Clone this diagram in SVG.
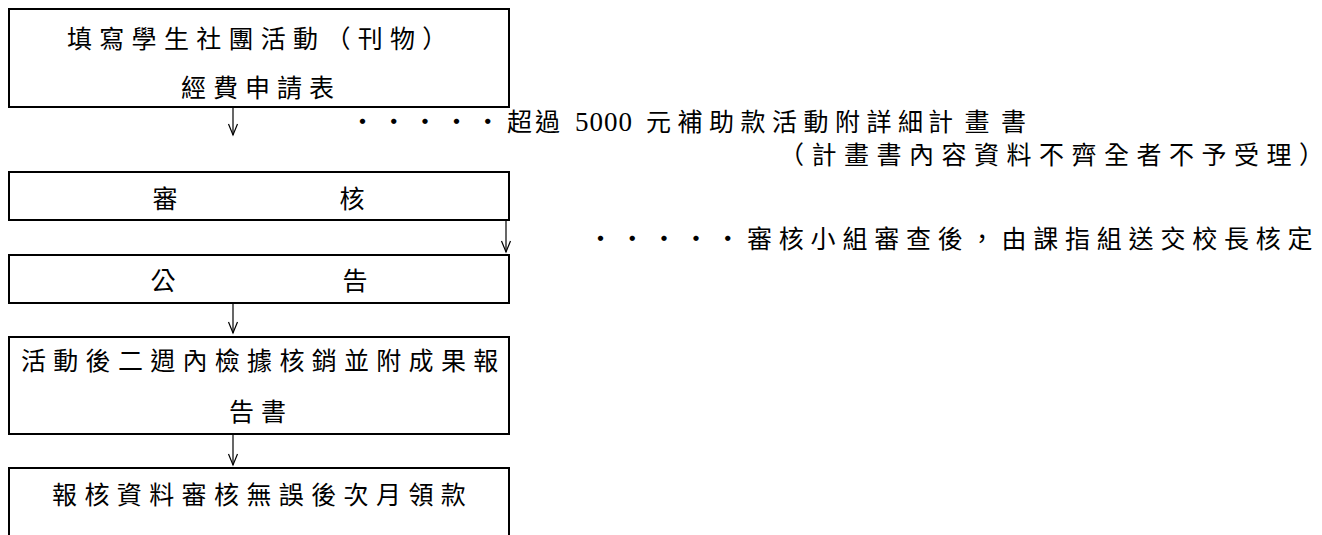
<svg xmlns="http://www.w3.org/2000/svg" width="1322" height="535" viewBox="0 0 1322 535">
<style>
.box{fill:none;stroke:#000;stroke-width:2}
.t{font-family:"Noto Sans CJK TC","Noto Sans CJK SC",sans-serif;font-size:25px;fill:#000;letter-spacing:7px}
.s{letter-spacing:0}
.r{font-family:"Noto Sans CJK TC","Noto Sans CJK SC",sans-serif;font-size:25px;fill:#000}
.num{font-family:"Liberation Serif",serif;font-size:27px;letter-spacing:1px}
.c{fill:none;stroke:#000;stroke-width:1.2}
</style>
<defs>
<marker id="ah" viewBox="-13 -6 15 12" refX="0" refY="0" markerWidth="15" markerHeight="12" markerUnits="userSpaceOnUse" orient="auto">
<path d="M-11,-4.5 L0,0 L-11,4.5" fill="none" stroke="#000" stroke-width="1.2"/>
</marker>
</defs>
<g id="node1">
<rect class="box" x="9" y="9" width="500" height="98"/>
<text class="t" x="67" y="47.5" style="letter-spacing:7.3px">填寫學生社團活動（刊物）</text>
<text class="t" x="181" y="97">經費申請表</text>
</g>
<g id="node2">
<rect class="box" x="9" y="172" width="500" height="48"/>
<text class="t s" x="165" y="208" text-anchor="middle">審</text>
<text class="t s" x="352" y="208" text-anchor="middle">核</text>
</g>
<g id="node3">
<rect class="box" x="9" y="255" width="500" height="48"/>
<text class="t s" x="163" y="290" text-anchor="middle">公</text>
<text class="t s" x="355" y="290" text-anchor="middle">告</text>
</g>
<g id="node4">
<rect class="box" x="9" y="337" width="500" height="97"/>
<text class="t" x="21" y="370" style="letter-spacing:7.3px">活動後二週內檢據核銷並附成果報</text>
<text class="t" x="229" y="421">告書</text>
</g>
<g id="node5">
<rect class="box" x="9" y="468" width="500" height="100"/>
<text class="t" x="52" y="504" style="letter-spacing:7.4px">報核資料審核無誤後次月領款</text>
</g>
<g id="notes">
<text class="r" y="131"><tspan x="350" style="letter-spacing:6.3px">・・・・・</tspan><tspan x="507" style="letter-spacing:3px">超過</tspan><tspan class="num" x="575">5000</tspan><tspan x="646" style="letter-spacing:6.5px">元補助款活動附詳細</tspan><tspan x="928" style="letter-spacing:11.5px">計畫</tspan><tspan style="letter-spacing:0">書</tspan></text>
<text class="r" x="779" y="164"><tspan style="letter-spacing:7.5px">（計畫書內容資料不齊全者不予受理</tspan><tspan style="letter-spacing:0">）</tspan></text>
<text class="r" x="588" y="248"><tspan style="letter-spacing:6.8px">・・・・・審核小組審查後，由課指組送交校長核</tspan><tspan style="letter-spacing:0">定</tspan></text>
</g>
<g id="connectors">
<line class="c" x1="233" y1="108" x2="233" y2="135" marker-end="url(#ah)"/>
<line class="c" x1="506" y1="221" x2="506" y2="252" marker-end="url(#ah)"/>
<line class="c" x1="233" y1="304" x2="233" y2="333" marker-end="url(#ah)"/>
<line class="c" x1="233" y1="435" x2="233" y2="465" marker-end="url(#ah)"/>
</g>
</svg>
